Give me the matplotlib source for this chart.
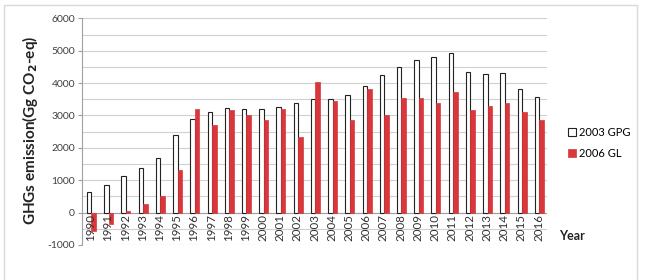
import matplotlib
matplotlib.use("Agg")
import matplotlib.pyplot as plt
import matplotlib.patches as mpatches
import numpy as np

years = [str(y) for y in range(1990, 2017)]
gpg_2003 = [640, 866, 1133, 1380, 1690, 2410, 2905, 3110, 3245, 3205, 3205, 3265, 3390, 3495,
            3515, 3640, 3915, 4250, 4505, 4710, 4805, 4930, 4350, 4290, 4320, 3825, 3575]
gl_2006 = [-580, -365, 40, 258, 505, 1318, 3215, 2700, 3165, 3000, 2875, 3215, 2330, 4040,
           3435, 2855, 3805, 3000, 3545, 3525, 3370, 3710, 3165, 3290, 3370, 3105, 2855]
series_names = ["2003 GPG", "2006 GL"]
yticks = [-1000, 0, 1000, 2000, 3000, 4000, 5000, 6000]

plt.rcParams['font.family'] = ['Lato', 'DejaVu Sans']

fig = plt.figure(figsize=(6.57, 2.8), dpi=100)
fig.patches.append(mpatches.Rectangle((4/657, -0.2), 633/657, 1.2 - 5/280,
                                      transform=fig.transFigure, fill=False,
                                      edgecolor='#d9d9d9', lw=1.0))
ax = fig.add_axes([0.1248, 0.125, 0.7078, 0.8096])

x = np.arange(len(years))
w = 0.26
b1 = ax.bar(x - w/2 + 0.05, gpg_2003, w, color='white', edgecolor='#222222', lw=0.8,
            hatch=':', label=series_names[0], zorder=3)
b2 = ax.bar(x + w/2 + 0.05, gl_2006, w, color='#d8373c', edgecolor='#d8373c', lw=0.5,
            label=series_names[1], zorder=3)

ax.set_xlim(-0.5, len(years) - 0.5)
ax.set_ylim(-1000, 6000)
ax.set_yticks(yticks)
ax.set_yticklabels([str(v) for v in yticks], fontsize=7.5, color='#404040')
ax.set_yticks(np.arange(-1000, 6001, 500), minor=True)
ax.tick_params(axis='y', which='major', length=3, color='#a0a0a0', pad=2)
ax.tick_params(axis='y', which='minor', length=0)
ax.grid(axis='y', which='both', color='#d0d0d0', lw=0.8, zorder=0)
ax.set_axisbelow(True)
ax.set_xticks([])
for s in ['top', 'right', 'bottom']:
    ax.spines[s].set_visible(False)
ax.spines['left'].set_color('#a0a0a0')
ax.axhline(0, color='#a0a0a0', lw=0.8, zorder=2)

for xi, lab in zip(x, years):
    ax.text(xi, -50, lab, rotation=90, ha='center', va='top', fontsize=8.3,
            color='#303030', zorder=4)

fig.text(0.046, 0.536, r"GHGs emission(Gg CO$_\mathbf{2}$-eq)", rotation=90,
         ha='center', va='center', fontsize=11, fontweight='bold', color='#222222')
fig.text(0.871, 0.157, "Year", ha='center', va='center', fontsize=9,
         fontweight='bold', color='#222222')

ax.legend(handles=[b1, b2], loc='center left', bbox_to_anchor=(1.035, 0.45),
          frameon=False, fontsize=8, handlelength=0.7, handleheight=0.7,
          handletextpad=0.3, labelspacing=0.9, borderaxespad=0)

fig.savefig("out.png", dpi=100)
